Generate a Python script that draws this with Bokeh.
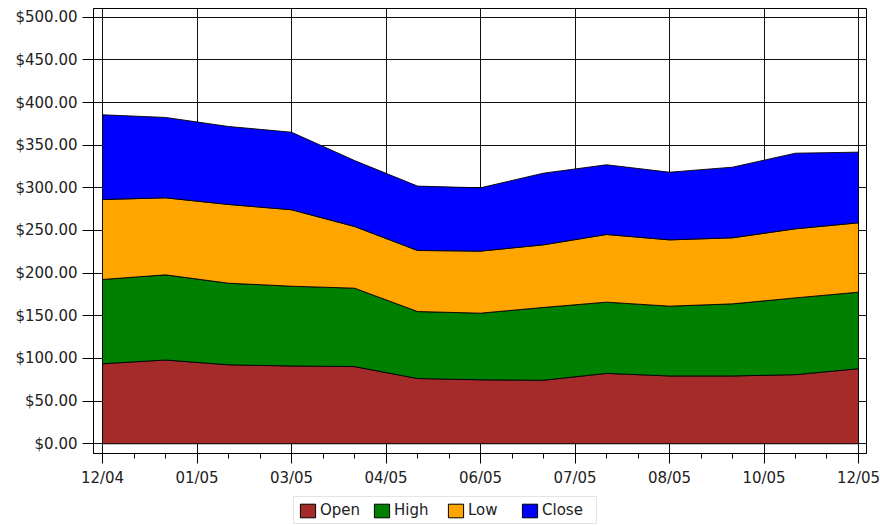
import numpy as np
from bokeh.plotting import figure
from bokeh.layouts import column
from bokeh.models import FixedTicker, NumeralTickFormatter, Range1d, Legend, LegendItem
from bokeh.embed import file_html
from bokeh.resources import INLINE

# ---- data ----
months = ["12/04", "01/05", "02/05", "03/05", "04/05", "05/05", "06/05",
          "07/05", "08/05", "09/05", "10/05", "11/05", "12/05"]
open_vals = [93.8, 98.2, 92.6, 91.2, 90.5, 76.5, 75.0, 74.5, 82.5, 79.5, 79.5, 81.0, 88.0]
high_vals = [98.8, 99.8, 95.6, 93.5, 91.9, 78.5, 78.1, 85.3, 83.5, 81.8, 84.5, 90.0, 89.7]
low_vals = [93.7, 90.3, 92.3, 89.6, 72.3, 71.6, 72.7, 73.4, 79.3, 77.7, 77.4, 81.0, 81.3]
close_vals = [99.3, 94.2, 91.4, 90.9, 77.3, 75.4, 74.2, 84.0, 81.7, 79.3, 82.8, 88.6, 82.8]
series_names = ["Open", "High", "Low", "Close"]
series_colors = ["#A52A2A", "#008000", "#FFA500", "#0000FF"]
x_tick_labels = ["12/04", "01/05", "03/05", "04/05", "06/05", "07/05", "08/05", "10/05", "12/05"]
y_ticks = [0, 50, 100, 150, 200, 250, 300, 350, 400, 450, 500]

FONT = "DejaVu Sans"
TXT = "#222222"

x = np.arange(len(months), dtype=float)
series = [open_vals, high_vals, low_vals, close_vals]

p = figure(width=880, height=493, output_backend="svg", toolbar_location=None,
           x_range=Range1d(-0.143, 12.127), y_range=Range1d(-11.4, 510.2),
           min_border_left=93, min_border_right=14, min_border_top=8, min_border_bottom=40)
p.background_fill_color = "white"
p.border_fill_color = "white"
p.outline_line_color = "black"
p.outline_line_width = 1

bottom = np.zeros(len(x))
for name, vals, col in zip(series_names, series, series_colors):
    top = bottom + np.array(vals)
    xs = list(x) + list(x[::-1])
    ys = list(top) + list(bottom[::-1])
    p.patch(xs, ys, fill_color=col, line_color="black", line_width=1, line_alpha=0.9)
    bottom = top

# x axis
n_major = len(x_tick_labels)
major_pos = [i * (len(months) - 1) / (n_major - 1) for i in range(n_major)]
minor_pos = [i * 0.5 for i in range(0, 2 * (len(months) - 1) + 1)]
p.xaxis.ticker = FixedTicker(ticks=major_pos, minor_ticks=minor_pos)
p.xaxis.major_label_overrides = {pos: lab for pos, lab in zip(major_pos, x_tick_labels)}
p.xaxis.major_tick_out = 10
p.xaxis.major_tick_in = 0
p.xaxis.minor_tick_out = 5
p.xaxis.minor_tick_in = 0
p.xaxis.major_label_standoff = 5

# y axis
p.yaxis.ticker = FixedTicker(ticks=y_ticks)
p.yaxis.formatter = NumeralTickFormatter(format="$0.00")
p.yaxis.major_tick_out = 11
p.yaxis.major_tick_in = 0
p.yaxis.major_label_standoff = 5

for ax in (p.xaxis, p.yaxis):
    ax.axis_line_color = "black"
    ax.major_tick_line_color = "black"
    ax.major_label_text_font = FONT
    ax.major_label_text_font_size = "15px"
    ax.major_label_text_color = TXT
p.xaxis.minor_tick_line_color = "black"
p.yaxis.minor_tick_line_color = None

p.xgrid.grid_line_color = "#111111"
p.ygrid.grid_line_color = "#111111"
p.xgrid.grid_line_width = 1
p.ygrid.grid_line_width = 1

# ---- legend strip below the chart ----
pl = figure(width=880, height=32, output_backend="svg", toolbar_location=None,
            x_axis_location=None, y_axis_location=None,
            x_range=Range1d(-1, 0), y_range=Range1d(-1, 0),
            min_border=0, outline_line_color=None)
pl.grid.visible = False
items = []
for name, vals, col in zip(series_names, series, series_colors):
    # same series data, out of this strip's view: only used for the legend swatch
    r = pl.patch(list(x), list(vals), fill_color=col, line_color="black", line_width=1)
    items.append(LegendItem(label=name, renderers=[r]))
legend = Legend(items=items, orientation="horizontal", location=(200, 1),
                margin=0, padding=4, spacing=2, glyph_width=19, glyph_height=17,
                label_width=50, label_standoff=3,
                label_text_font=FONT, label_text_font_size="15px", label_text_color=TXT,
                border_line_color="#cccccc", border_line_width=1,
                background_fill_color="white", background_fill_alpha=1.0)
pl.add_layout(legend, "center")

layout = column(p, pl, spacing=0)
open("out.html", "w").write(file_html(layout, INLINE))
